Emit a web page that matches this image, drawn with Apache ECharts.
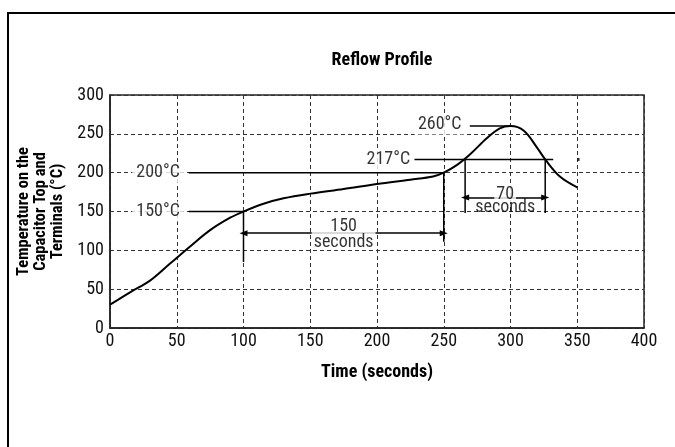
<!DOCTYPE html>
<html><head><meta charset="utf-8">
<script src="https://cdn.jsdelivr.net/npm/echarts@6/dist/echarts.min.js"></script>
<style>
html,body{margin:0;padding:0;background:#fff;}
#frame{position:absolute;left:7px;top:12px;width:720px;height:520px;border:2px solid #000;box-sizing:border-box;}
#chart{position:absolute;left:0;top:0;width:675px;height:447px;}
</style></head><body>
<div id="frame"></div>
<div id="chart"></div>
<script>
// Reflow temperature profile (time in s, temperature in °C)
const timeSec = [0, 15, 30, 45, 60, 75, 90, 100, 115, 130, 150, 175, 200, 225, 242, 250, 260, 270, 282, 292, 300, 310, 320, 326, 337, 350];
const tempC   = [30, 46, 61, 83, 105, 126, 142, 150, 160, 167, 173, 179, 185.5, 191, 195, 200, 210, 224, 244, 257, 260, 254, 232, 217, 195, 181];

const xTicks = [0, 50, 100, 150, 200, 250, 300, 350, 400];
const yTicks = [0, 50, 100, 150, 200, 250, 300];

// Temperature callouts
const calloutText = ['200°C', '150°C', '217°C', '260°C'];
const calloutX = [36, 36, 208.5, 247];
const calloutY = [200, 150, 217.5, 262];

// Leader / drop lines: [[x1,y1],[x2,y2]]
const guideLines = [
  [[59, 200], [250, 200]],
  [[59, 150], [100, 150]],
  [[228, 217], [332, 217]],
  [[269.5, 260], [300, 260]],
  [[100, 150], [100, 85]],
  [[250, 200], [250, 111]],
  [[266, 217], [266, 148]],
  [[326, 217], [326, 148]]
];

// Duration arrows
const arrowLines = [
  [[100, 122], [250, 122]],
  [[266, 168], [326, 168]]
];
const durationText = ['150\nseconds', '70', 'seconds'];
const durationX = [175, 296, 296];
const durationY = [121, 172, 155.5];
const durationBg = [true, true, false];

const strayX = [351];
const strayY = [217];

const FONT = "'Roboto Condensed', Roboto, sans-serif";
const chart = echarts.init(document.getElementById('chart'));

const series = [];
series.push({
  type: 'line', name: 'profile', data: timeSec.map((t, i) => [t, tempC[i]]),
  smooth: 0.35, showSymbol: false, symbol: 'none',
  lineStyle: { color: '#000', width: 2 }, z: 4, silent: true
});
guideLines.forEach(seg => series.push({
  type: 'line', data: seg, symbol: 'none', silent: true,
  lineStyle: { color: '#000', width: 1.5 }, z: 3
}));
series.push({
  type: 'line', data: [], silent: true, z: 3,
  markLine: {
    silent: true, animation: false,
    symbol: ['triangle', 'triangle'], symbolSize: [6, 8],
    lineStyle: { color: '#000', type: 'solid', width: 1.5 },
    label: { show: false },
    data: arrowLines.map(a => [{ coord: a[0] }, { coord: a[1] }])
  }
});
series.push({
  type: 'scatter', symbolSize: 0, silent: true, z: 10,
  data: calloutText.map((t, i) => ({
    value: [calloutX[i], calloutY[i]],
    label: { show: true, position: 'inside', formatter: t, color: '#000', fontFamily: FONT, fontSize: 18,
             backgroundColor: '#fff', padding: [1, 4] }
  }))
});
series.push({
  type: 'scatter', symbolSize: 0, silent: true, z: 10,
  data: durationText.map((t, i) => ({
    value: [durationX[i], durationY[i]],
    label: { show: true, position: 'inside', formatter: t, color: '#000', fontFamily: FONT, fontSize: 18,
             lineHeight: 16, backgroundColor: durationBg[i] ? '#fff' : 'transparent', padding: [0, 2] }
  }))
});
series.push({
  type: 'scatter', symbol: 'rect', symbolSize: [2, 3], silent: true, z: 5,
  itemStyle: { color: '#000' },
  data: strayX.map((x, i) => [x, strayY[i]])
});

chart.setOption({
  animation: false,
  backgroundColor: 'transparent',
  title: {
    text: 'Reflow Profile', left: 377, top: 46, textAlign: 'center',
    textStyle: { fontFamily: FONT, fontWeight: 'bold', fontSize: 18, color: '#000' }
  },
  grid: { left: 110, right: 31, top: 95, bottom: 119, show: true, borderColor: '#222', borderWidth: 1.5, backgroundColor: 'transparent' },
  xAxis: {
    type: 'value', min: xTicks[0], max: xTicks[xTicks.length - 1], interval: 50,
    name: 'Time (seconds)', nameLocation: 'middle', nameGap: 35,
    nameTextStyle: { fontFamily: FONT, fontWeight: 'bold', fontSize: 18, color: '#000' },
    axisLine: { lineStyle: { color: '#222', width: 1.5 } },
    axisTick: { show: false },
    axisLabel: { margin: 4, fontFamily: FONT, fontSize: 18, color: '#111' },
    splitLine: { lineStyle: { color: '#333', type: [4, 3], width: 1 } }
  },
  yAxis: {
    type: 'value', min: yTicks[0], max: yTicks[yTicks.length - 1], interval: 50,
    name: 'Temperature on the\nCapacitor Top and\nTerminals (°C)', nameLocation: 'middle', nameGap: 36,
    nameTextStyle: { fontFamily: FONT, fontWeight: 'bold', fontSize: 16.5, lineHeight: 17, color: '#000', align: 'center' },
    axisLine: { show: true, lineStyle: { color: '#222', width: 1.5 } },
    axisTick: { show: false },
    axisLabel: { margin: 6, fontFamily: FONT, fontSize: 18, color: '#111' },
    splitLine: { lineStyle: { color: '#333', type: [4, 3], width: 1 } }
  },
  series: series
});
</script>
</body></html>
